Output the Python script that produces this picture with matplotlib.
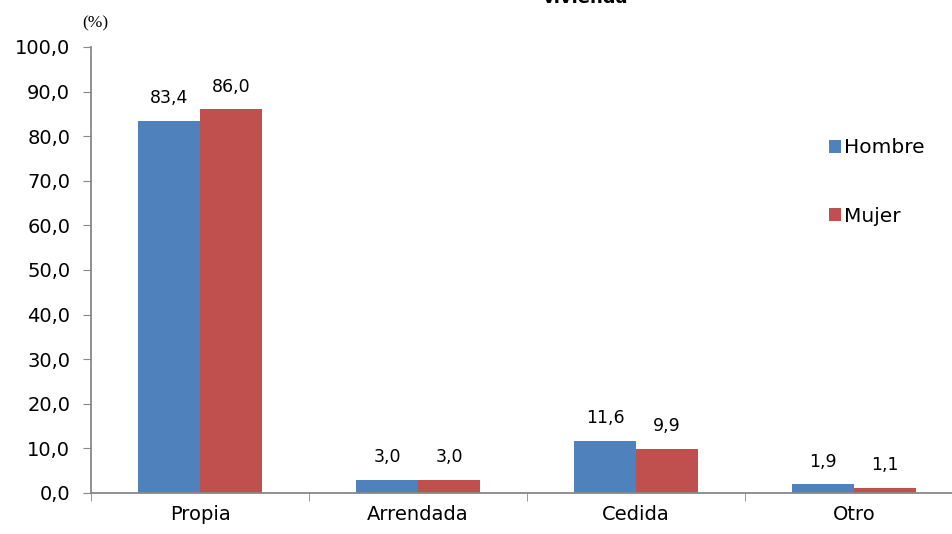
import numpy as np
from matplotlib import pyplot as plt

categories = ["Propia", "Arrendada", "Cedida", "Otro"]
hombre = [83.4, 3.0, 11.6, 1.9]
mujer = [86.0, 3.0, 9.9, 1.1]
series_names = ["Hombre", "Mujer"]
colors = ["#4F81BD", "#C0504D"]


def fmt(v):
    return f"{v:.1f}".replace(".", ",")


fig = plt.figure(figsize=(9.53, 5.34), dpi=100)
ax = fig.add_axes([0.0955, 0.077, 0.915, 0.835])

x = np.arange(len(categories))
w = 0.285
b1 = ax.bar(x - w / 2, hombre, w, color=colors[0], label=series_names[0])
b2 = ax.bar(x + w / 2, mujer, w, color=colors[1], label=series_names[1])

# data labels
for bars in (b1, b2):
    for rect in bars:
        h = rect.get_height()
        ax.annotate(fmt(h), (rect.get_x() + rect.get_width() / 2, h),
                    xytext=(0, 10), textcoords="offset points",
                    ha="center", va="bottom", fontsize=12.5)

ax.set_xlim(-0.5, len(categories) - 0.5)
ax.set_ylim(0, 100)
ax.set_yticks(np.arange(0, 101, 10))
ax.set_yticklabels([fmt(v) for v in np.arange(0, 101, 10)], fontsize=14)

ax.set_xticks(x)
ax.set_xticklabels(categories, fontsize=14)
ax.tick_params(axis="x", which="major", length=0, pad=9)
ax.set_xticks(np.arange(-0.5, len(categories)), minor=True)
ax.tick_params(axis="x", which="minor", length=6, color="#888888", direction="out")
ax.tick_params(axis="y", length=6, color="#888888", direction="out", pad=9)

for s in ("top", "right"):
    ax.spines[s].set_visible(False)
for s in ("left", "bottom"):
    ax.spines[s].set_color("#888888")
    ax.spines[s].set_linewidth(1.3)

fig.text(82 / 953, 1 - 23 / 534, "(%)", fontsize=12.5,
         family="Liberation Serif", ha="left", va="center")

# title is cut at the top edge of the picture
fig.text(585 / 953, 1 - 7 / 534, "vivienda", ha="center", va="bottom",
         fontsize=13, fontweight="bold")

ax.legend(loc="center left", bbox_to_anchor=(0.825, 0.697), frameon=False,
          fontsize=14.5, handlelength=0.6, handleheight=0.6, handletextpad=0.15,
          labelspacing=2.45)

fig.savefig("out.png", dpi=100)
